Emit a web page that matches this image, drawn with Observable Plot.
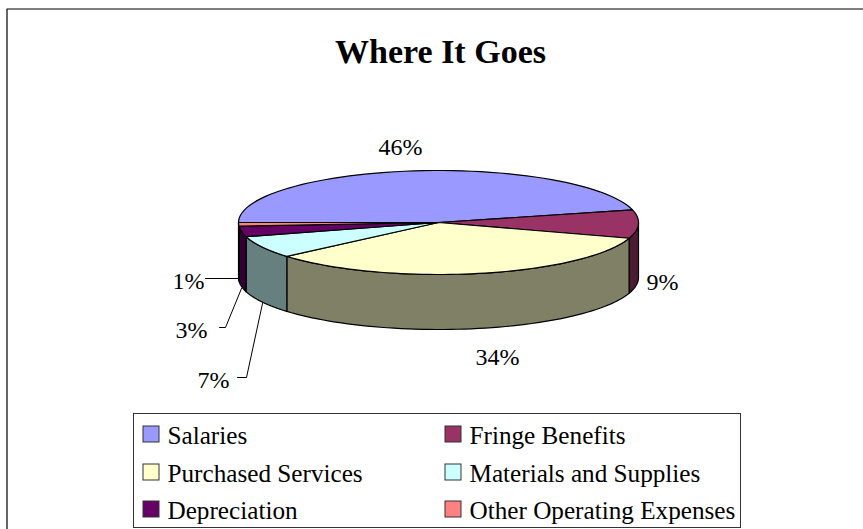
<!DOCTYPE html>
<html><head><meta charset="utf-8">
<script src="https://cdn.jsdelivr.net/npm/d3@7"></script>
<script src="https://cdn.jsdelivr.net/npm/@observablehq/plot@0.6"></script>
<style>html,body{margin:0;padding:0;background:#fff}svg{display:block}</style>
</head><body><div id="chart"></div>
<script>
const titleText = "Where It Goes";
const categories = ["Salaries","Fringe Benefits","Purchased Services","Materials and Supplies","Depreciation","Other Operating Expenses"];
const values = [46.1, 8.8, 33.8, 6.9, 3.3, 1.1];
const percentLabels = ["46%","9%","34%","7%","3%","1%"];
const colors = ["#9999ff","#993366","#ffffcc","#ccffff","#660066","#ff8080"];
const sideColors = ["#4d4d80","#4d1a33","#808066","#668080","#330033","#804040"];

const W = 863, H = 529, cx = 438, cy = 222, rx = 200, ry = 52, depth = 55, startDeg = 180;
const rad = d => d * Math.PI / 180;
const total = d3.sum(values);
let acc = startDeg;
const slices = categories.map((name, i) => {
  const a0 = acc; acc += values[i] / total * 360;
  return {name, i, a0, a1: acc};
});
const ptx = a => cx + rx * Math.cos(rad(a));
const pty = (a, dz = 0) => cy + ry * Math.sin(rad(a)) + dz;
const arc = (a0, a1, dz = 0) => d3.range(0, 61).map(k => {
  const a = a0 + (a1 - a0) * k / 60;
  return {x: ptx(a), y: pty(a, dz)};
});
const sidePts = [], topPts = [];
for (const s of slices) {
  // the visible front of the wall: angles 360..540 on the running scale
  const lo = Math.max(s.a0, 360), hi = Math.min(s.a1, 540);
  if (hi > lo) {
    for (const p of [...arc(lo, hi), ...arc(hi, lo, depth), {x: ptx(lo), y: pty(lo)}])
      sidePts.push({...p, id: s.name, fill: sideColors[s.i]});
  }
  const c = {x: cx, y: cy};
  for (const p of [c, ...arc(s.a0, s.a1), c]) topPts.push({...p, id: s.name, fill: colors[s.i]});
}
const labels = [
  {t: percentLabels[0], x: 400, y: 154},
  {t: percentLabels[1], x: 662, y: 289},
  {t: percentLabels[2], x: 497, y: 364},
  {t: percentLabels[3], x: 213, y: 387},
  {t: percentLabels[4], x: 191, y: 337},
  {t: percentLabels[5], x: 188, y: 288}
];
const leaders = [
  {id: "a", pts: [[205,278],[238,278]]},
  {id: "b", pts: [[219,327],[225,327],[241,288]]},
  {id: "c", pts: [[237,377],[246,377],[262,303]]}
].flatMap(l => l.pts.map(([x, y]) => ({id: l.id, x, y})));
const frame = [{x: 6.5, y: 529}, {x: 6.5, y: 8.5}, {x: 863, y: 8.5}];
const legendRows = categories.map((name, i) => ({
  name, fill: colors[i],
  x: [143, 445][i % 2], tx: [167, 469][i % 2],
  y: [426, 464, 501][Math.floor(i / 2)], by: [443, 481, 518][Math.floor(i / 2)]
}));
const serif = "Liberation Serif, Times New Roman, serif";

const plot = Plot.plot({
  width: W, height: H, margin: 0,
  x: {domain: [0, W], range: [0, W], axis: null},
  y: {domain: [0, H], range: [0, H], axis: null},
  color: {type: "identity"},
  marks: [
    Plot.line(frame, {x: "x", y: "y", stroke: "#000", strokeWidth: 1.2}),
    Plot.line(leaders, {x: "x", y: "y", z: "id", stroke: "#000", strokeWidth: 1}),
    Plot.line(sidePts, {x: "x", y: "y", z: "id", fill: "fill", stroke: "#000", strokeWidth: 1.2}),
    Plot.line(topPts, {x: "x", y: "y", z: "id", fill: "fill", stroke: "#000", strokeWidth: 1.2}),
    Plot.text([titleText], {x: 440, y: 62, text: d => d, fontSize: 34, fontWeight: "bold", fontFamily: serif, fill: "#000", lineAnchor: "bottom"}),
    Plot.text(labels, {x: "x", y: "y", text: "t", fontSize: 24, fontFamily: serif, fill: "#000", lineAnchor: "bottom"}),
    Plot.rect([{}], {x1: 133.5, x2: 740.5, y1: 413.5, y2: 527.5, fill: "none", stroke: "#333", strokeWidth: 1}),
    Plot.rect(legendRows, {x1: "x", x2: d => d.x + 16, y1: "y", y2: d => d.y + 16, fill: "fill", stroke: "#333", strokeWidth: 1}),
    Plot.text(legendRows, {x: "tx", y: "by", text: "name", textAnchor: "start", fontSize: 25.2, fontFamily: serif, fill: "#000", lineAnchor: "bottom"})
  ]
});
plot.style.background = "#fff";
document.getElementById("chart").append(plot);
</script></body></html>
